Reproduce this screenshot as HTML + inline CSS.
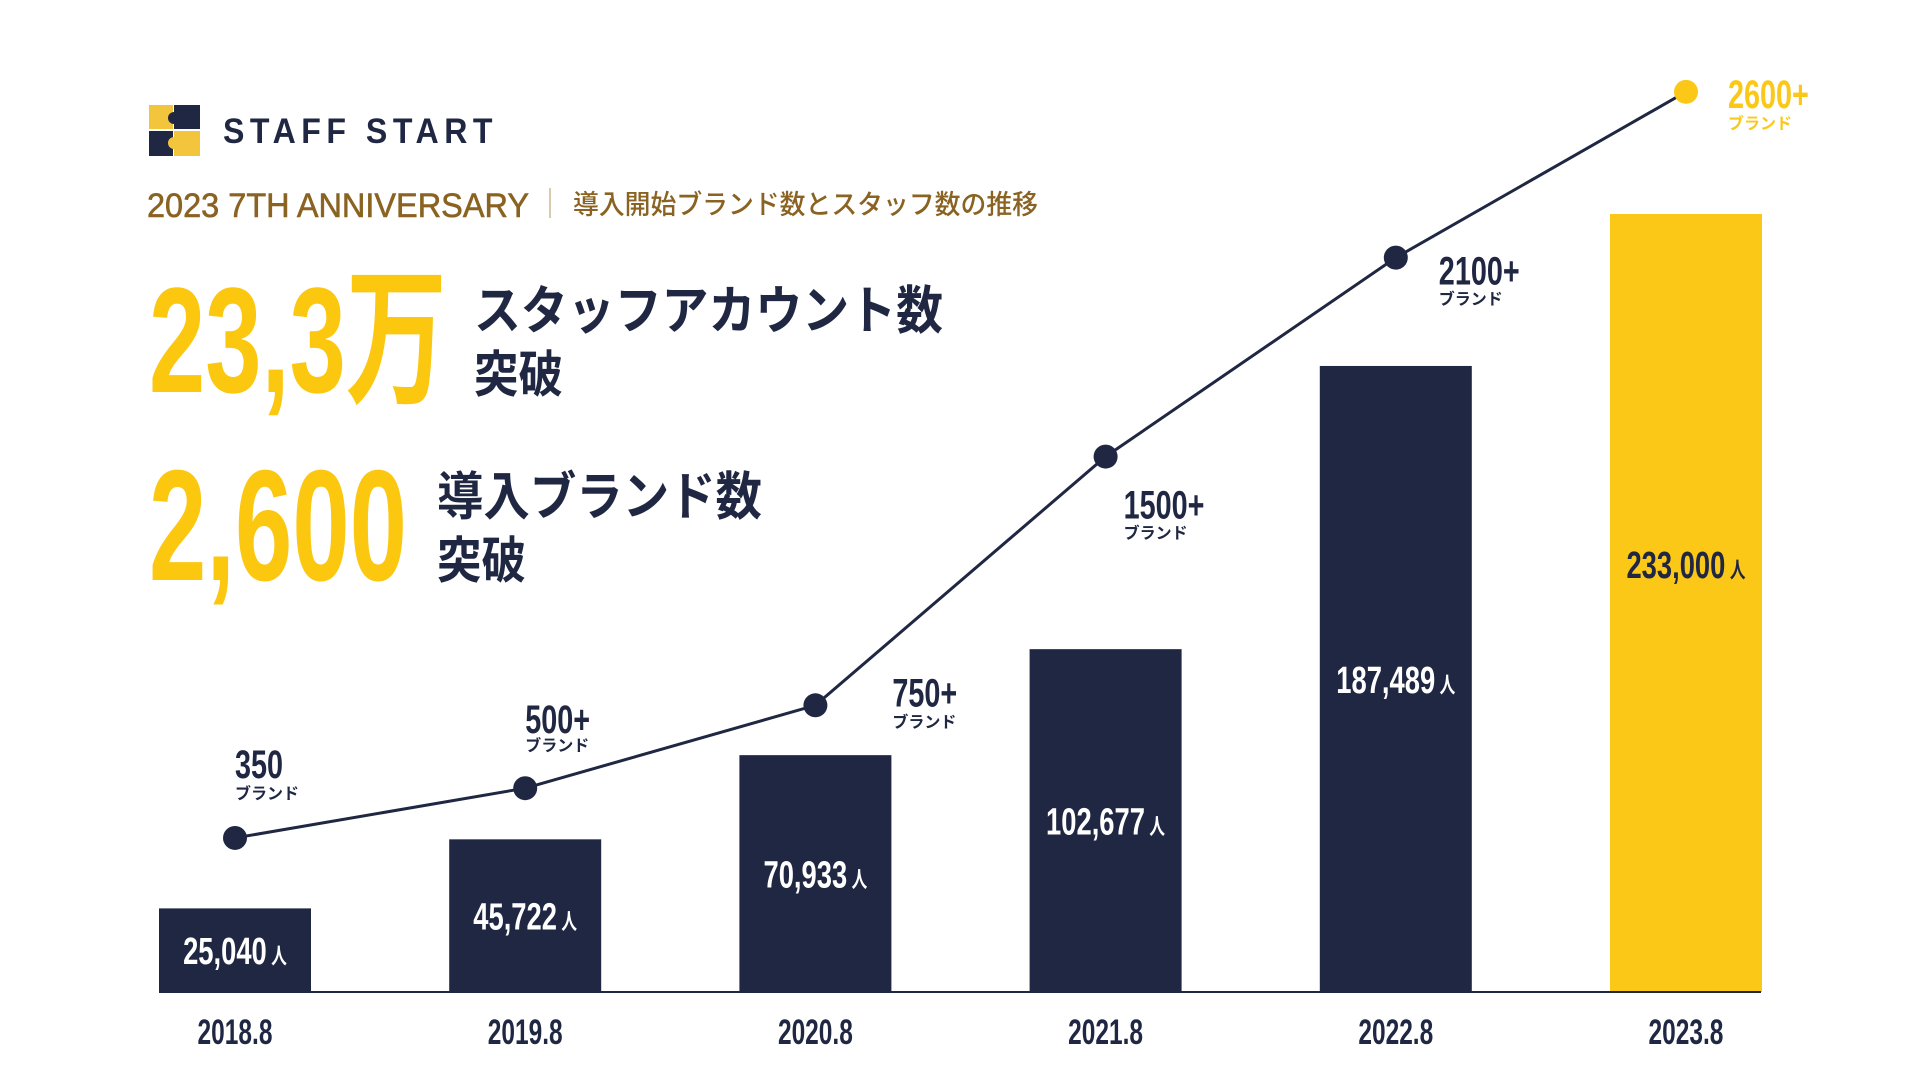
<!DOCTYPE html>
<html><head><meta charset="utf-8">
<style>
html,body{margin:0;padding:0;background:#fff;width:1920px;height:1080px;overflow:hidden}
svg{display:block}
.c{font-family:"Liberation Sans","Noto Sans CJK JP",sans-serif;font-weight:bold}
.j{font-family:"Noto Sans CJK JP","Liberation Sans",sans-serif;font-weight:bold}
</style></head>
<body>
<svg id="chart" width="1920" height="1080" viewBox="0 0 1920 1080" xmlns="http://www.w3.org/2000/svg">
  <g>
    <rect x="149" y="105" width="24" height="24" fill="#f2c53d"/>
    <rect x="174" y="105" width="26" height="24" fill="#1f2742"/>
    <rect x="149" y="131" width="24" height="25" fill="#1f2742"/>
    <rect x="174" y="131" width="26" height="25" fill="#f2c53d"/>
    <circle cx="174" cy="118" r="6" fill="#1f2742"/>
    <circle cx="174" cy="143" r="6" fill="#f2c53d"/>
  </g>
  <text class="c" x="223" y="143" font-size="35" letter-spacing="6" fill="#1f2742" textLength="275" lengthAdjust="spacingAndGlyphs">STAFF START</text>
  <text x="147" y="217" font-family="Liberation Sans, sans-serif" font-size="34" fill="#8a6322" stroke="#8a6322" stroke-width="0.6" textLength="382" lengthAdjust="spacingAndGlyphs">2023 7TH ANNIVERSARY</text>
  <rect x="549" y="188" width="2" height="30" fill="#d8cbb0"/>
  <text x="573" y="214" font-family="Noto Sans CJK JP, sans-serif" font-size="27" font-weight="500" fill="#8a6322" textLength="465" lengthAdjust="spacingAndGlyphs">導入開始ブランド数とスタッフ数の推移</text>

  <text class="c" x="149" y="392" font-size="150" fill="#fbc70f" textLength="298" lengthAdjust="spacingAndGlyphs">23,3万</text>
  <text class="j" x="474" y="329" font-size="52" fill="#1f2742" textLength="469" lengthAdjust="spacingAndGlyphs">スタッフアカウント数</text>
  <text class="j" x="474" y="392" font-size="50" fill="#1f2742" textLength="89" lengthAdjust="spacingAndGlyphs">突破</text>
  <text class="c" x="149" y="580" font-size="158" fill="#fbc70f" textLength="258" lengthAdjust="spacingAndGlyphs">2,600</text>
  <text class="j" x="437" y="515" font-size="52" fill="#1f2742" textLength="325" lengthAdjust="spacingAndGlyphs">導入ブランド数</text>
  <text class="j" x="437" y="578" font-size="50" fill="#1f2742" textLength="89" lengthAdjust="spacingAndGlyphs">突破</text>

  <g id="bars"></g>
  <line x1="159" y1="992" x2="1761" y2="992" stroke="#1f2742" stroke-width="2"/>
  <g id="xlabels"></g>
  <g id="line"></g>
</svg>
<script>
const categories = ["2018.8","2019.8","2020.8","2021.8","2022.8","2023.8"];
const staffCounts = [25040, 45722, 70933, 102677, 187489, 233000];
const staffLabels = ["25,040","45,722","70,933","102,677","187,489","233,000"];
const brandCounts = [350, 500, 750, 1500, 2100, 2600];
const brandLabels = ["350","500+","750+","1500+","2100+","2600+"];

const NS = "http://www.w3.org/2000/svg";
const NAVY = "#1f2742", YELLOW = "#fcc817";
const baseY = 992, firstX = 235, step = 290.2, barW = 152;
function xPos(i){ return firstX + i*step; }
function yBar(v){ return baseY - v * (778/233000); }
function yLine(v){ return 954 - v * 0.3316; }
const labelDx = [0, 0, 77, 18, 43, 42];
const labelDy = [-60, -55, 1, 62, 27, 16];
const subDy = [-39, -37, 22, 82, 47, 37];

function mk(tag, attrs, parent){
  const e = document.createElementNS(NS, tag);
  for (const k in attrs) e.setAttribute(k, attrs[k]);
  parent.appendChild(e);
  return e;
}
const gb = document.getElementById("bars");
const gx = document.getElementById("xlabels");
const gl = document.getElementById("line");
const last = categories.length - 1;

staffCounts.forEach((v,i)=>{
  const cx = xPos(i), top = yBar(v);
  const r = mk("rect",{x:cx-barW/2,y:top,width:barW,height:baseY-top,fill:i===last?YELLOW:NAVY}, gb);
  
  
  const ly = i===last ? top + (baseY-top)*0.45 + 14 : (top+baseY)/2+14;
  const t = mk("text",{x:cx,y:ly,"text-anchor":"middle",fill:i===last?NAVY:"#fff","font-size":"38","class":"c",transform:`translate(${cx},0) scale(0.72,1) translate(${-cx},0)`}, gb);
  t.textContent = staffLabels[i];
  const s = document.createElementNS(NS,"tspan");
  s.setAttribute("font-size","22"); s.setAttribute("dx","6");
  s.setAttribute("font-family","Noto Sans CJK JP, sans-serif");
  s.textContent = "人";
  t.appendChild(s);
  
  
});

categories.forEach((c,i)=>{
  const cx = xPos(i);
  const t = mk("text",{x:cx,y:1044,"text-anchor":"middle",fill:NAVY,"font-size":"35","class":"c",transform:`translate(${cx},0) scale(0.7,1) translate(${-cx},0)`}, gx);
  t.textContent = c;
  
  
});

const pts = brandCounts.map((v,i)=>[xPos(i), yLine(v)]);
const path = mk("polyline",{points:pts.map(p=>p.join(",")).join(" "),fill:"none",stroke:NAVY,"stroke-width":"3"}, gl);


pts.forEach((p,i)=>{
  const col = i===last?YELLOW:NAVY;
  const d = mk("circle",{cx:p[0],cy:p[1],r:12,fill:col}, gl);
  
  
  const lx = p[0]+labelDx[i];
  const t = mk("text",{x:lx,y:p[1]+labelDy[i],fill:col,"font-size":"40","class":"c",transform:`translate(${lx},0) scale(0.72,1) translate(${-lx},0)`}, gl);
  t.textContent = brandLabels[i];
  
  
  const u = mk("text",{x:lx,y:p[1]+subDy[i],fill:col,"font-size":"16","class":"j"}, gl);
  u.textContent = "ブランド";
  
  
});
</script>
</body></html>
